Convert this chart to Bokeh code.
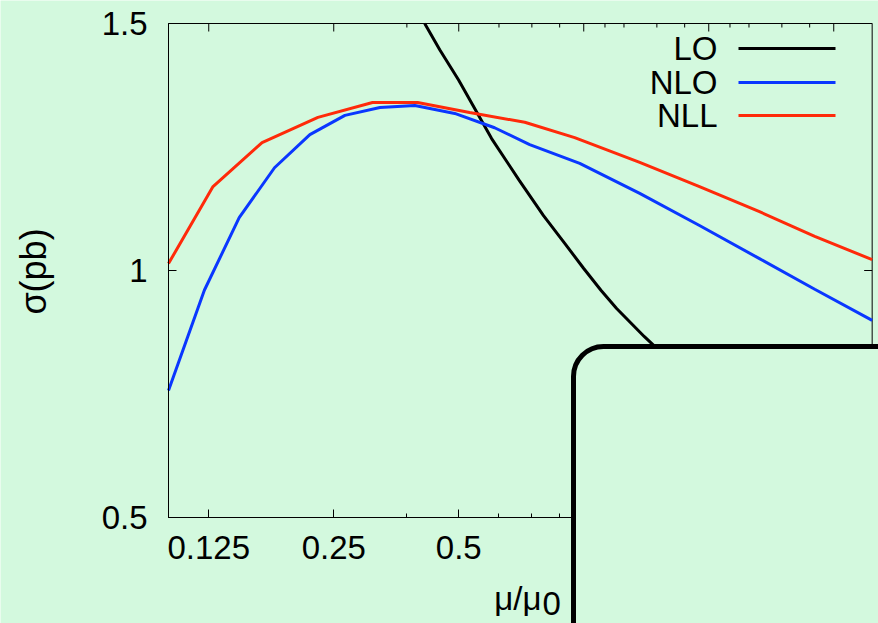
from math import pi, log2
from bokeh.plotting import figure
from bokeh.models import (Range1d, FixedTicker, LogAxis, LinearAxis, Label,
                          BoxAnnotation, CustomJSTickFormatter)
from bokeh.embed import file_html
from bokeh.resources import INLINE

# ---------------- data ----------------
mu_lo = [0.414, 0.45, 0.5, 0.6, 0.7, 0.8, 0.9, 1.0, 1.1, 1.2, 1.4, 1.6, 2.0, 2.5, 3.0, 4.0, 4.95]
sigma_lo = [1.50, 1.447, 1.385, 1.267, 1.182, 1.111, 1.055, 1.004, 0.960, 0.923, 0.866,
            0.82, 0.74, 0.66, 0.60, 0.52, 0.50]

mu_nlo = [0.1, 0.122, 0.148, 0.180, 0.219, 0.266, 0.323, 0.392, 0.489, 0.61, 0.741,
          0.978, 1.364, 1.90, 2.65, 3.60, 4.95]
sigma_nlo = [0.757, 0.960, 1.107, 1.208, 1.275, 1.314, 1.330, 1.334, 1.318, 1.289, 1.255,
             1.217, 1.156, 1.091, 1.024, 0.962, 0.899]

mu_nll = [0.1, 0.128, 0.168, 0.229, 0.310, 0.398, 0.531, 0.721, 0.951, 1.364, 1.90,
          2.65, 3.60, 4.95]
sigma_nll = [1.014, 1.170, 1.259, 1.310, 1.340, 1.340, 1.320, 1.300, 1.269, 1.219, 1.170,
             1.119, 1.069, 1.022]

series_names = ["LO", "NLO", "NLL"]
series_colors = ["#000000", "#0a37ff", "#ff2a0a"]

x_major = [0.125, 0.25, 0.5, 1, 2, 4]
x_major_labeled = [0.125, 0.25, 0.5]
x_minor = [0.375, 0.625, 0.75, 0.875, 1.125, 1.25, 1.5, 1.75, 2.25, 2.5, 3, 3.5]
y_ticks = [0.5, 1, 1.5]

X0, X1 = 0.1, 4.95     # plot box, x
Y0, Y1 = 0.5, 1.5      # plot box, y

BG = "#d3f9de"
FONT = "Liberation Sans"
FS = "33px"

W, H = 878, 623
# plot box in canvas pixels (used only to place decorations / ranges)
FL, FT, FB = 168, 23, 517
OCT = 125.0            # pixels per factor 2 on the x axis


def xd(px):
    return X0 * 2 ** ((px - FL) / OCT)


def yd(py):
    return Y1 - (py - FT) / (FB - FT) * (Y1 - Y0)


p = figure(width=W, height=H, x_axis_type="log",
           x_axis_location=None, y_axis_location=None,
           x_range=Range1d(xd(0), xd(W)), y_range=Range1d(yd(H), yd(0)),
           output_backend="svg", toolbar_location=None, min_border=0,
           background_fill_color=BG, border_fill_color=BG)
p.grid.visible = False
p.outline_line_color = None

fmt = CustomJSTickFormatter(code="return tick.toString();")


def style_axis(ax):
    ax.major_tick_in = 8
    ax.major_tick_out = 0
    ax.minor_tick_in = 4
    ax.minor_tick_out = 0
    ax.axis_line_color = "black"
    ax.axis_line_width = 1
    ax.major_tick_line_width = 1
    ax.minor_tick_line_width = 1
    ax.major_label_text_font = FONT
    ax.major_label_text_font_size = FS
    ax.major_label_text_color = "black"


xb = LogAxis(fixed_location=Y0, bounds=(X0, X1),
             ticker=FixedTicker(ticks=x_major_labeled, minor_ticks=x_minor[:4]),
             formatter=fmt)
style_axis(xb)
xb.major_label_standoff = 18
p.add_layout(xb, "below")

yl = LinearAxis(fixed_location=X0, bounds=(Y0, Y1),
                ticker=FixedTicker(ticks=y_ticks, minor_ticks=[]), formatter=fmt)
style_axis(yl)
yl.major_label_standoff = 21
p.add_layout(yl, "left")

# plot box outline (top / right sides)
p.add_layout(BoxAnnotation(left=X0, right=X1, bottom=Y0, top=Y1, fill_alpha=0,
                           line_color="black", line_alpha=1, line_width=1,
                           level="underlay"))

# mirrored ticks on the top and right sides
top_len = [8 if t in x_major else 4 for t in x_major + x_minor]
p.segment(x0=x_major + x_minor, x1=x_major + x_minor, y0=[Y1] * len(top_len),
          y1=[yd(FT + L) for L in top_len], line_color="black", line_width=1)
xr = FL + OCT * log2(X1 / X0)
p.segment(x0=[X1] * len(y_ticks), x1=[xd(xr - 8)] * len(y_ticks), y0=y_ticks,
          y1=y_ticks, line_color="black", line_width=1)

# curves
p.line(mu_lo, sigma_lo, line_color=series_colors[0], line_width=3)
p.line(mu_nlo, sigma_nlo, line_color=series_colors[1], line_width=3)
p.line(mu_nll, sigma_nll, line_color=series_colors[2], line_width=3)

# legend (text left, sample line right)
leg_rows = [48, 82, 115]
for name, py in zip(series_names, leg_rows):
    p.add_layout(Label(x=xd(717), y=yd(py), text=name, text_align="right",
                       text_baseline="middle", text_font=FONT, text_font_size=FS,
                       text_color="black"))
p.segment(x0=[xd(738)] * 3, x1=[xd(835)] * 3, y0=[yd(r) for r in leg_rows],
          y1=[yd(r) for r in leg_rows], line_color=series_colors, line_width=3)

# axis titles
p.add_layout(Label(x=xd(33), y=yd(271), text="σ(pb)", angle=pi / 2,
                   text_align="center", text_baseline="middle",
                   text_font=FONT, text_font_size="36px", text_color="black"))
p.add_layout(Label(x=xd(541), y=yd(598), text="μ/μ", text_align="right",
                   text_baseline="alphabetic", text_font=FONT, text_font_size=FS,
                   text_color="black"))
p.add_layout(Label(x=xd(542), y=yd(603), text="0", text_align="left",
                   text_baseline="alphabetic", text_font=FONT, text_font_size=FS,
                   text_color="black"))

# overlapping rounded panel (bottom-right)
p.add_layout(BoxAnnotation(left=xd(573), right=xd(1000), top=yd(346), bottom=yd(800),
                           fill_color=BG, fill_alpha=1.0, line_color="black",
                           line_alpha=1.0, line_width=5, border_radius=30))

open("out.html", "w").write(file_html(p, INLINE))
